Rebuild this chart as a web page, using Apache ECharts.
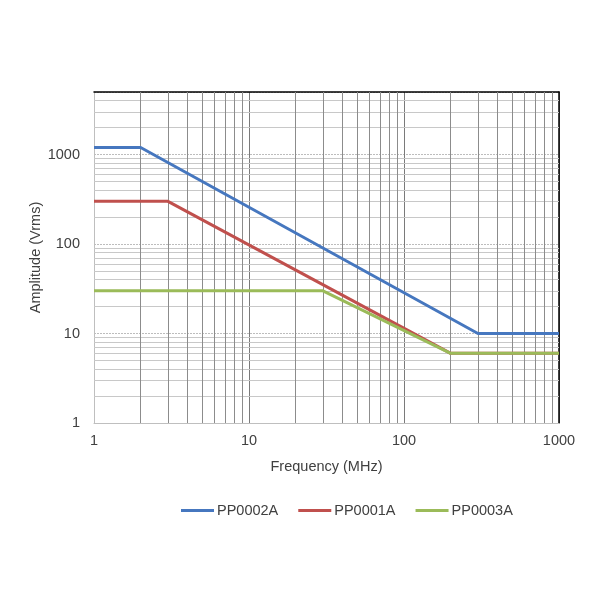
<!DOCTYPE html>
<html><head><meta charset="utf-8">
<script src="https://cdn.jsdelivr.net/npm/echarts@6/dist/echarts.min.js"></script>
<style>html,body{margin:0;padding:0;background:#fff}#c{width:600px;height:600px}</style>
</head><body><div id="c"></div>
<script>
// Data (frequency in MHz, amplitude in Vrms)
const seriesNames = ['PP0002A', 'PP0001A', 'PP0003A'];
const freqPP0002A = [1, 2, 300, 1000];
const ampPP0002A  = [1200, 1200, 10, 10];
const freqPP0001A = [1, 3, 200, 1000];
const ampPP0001A  = [300, 300, 6, 6];
const freqPP0003A = [1, 30, 200, 1000];
const ampPP0003A  = [30, 30, 6, 6];
const xTicks = [1, 10, 100, 1000];
const yTicks = [1, 10, 100, 1000];
const xMinorGrid = [2,3,4,5,6,7,8,9,20,30,40,50,60,70,80,90,200,300,400,500,600,700,800,900];
const yMinorGrid = [2,3,4,5,6,7,8,9,20,30,40,50,60,70,80,90,200,300,400,500,600,700,800,900,2000,3000,4000];

const colors = ['#4677BF', '#C0504D', '#9BBB59'];
const pair = (xs, ys) => xs.map((x, i) => [x, ys[i]]);
const font = 'Liberation Sans, Arial, sans-serif';
const fs = 14.5;

const lineSeries = (i, xs, ys, z) => ({
  name: seriesNames[i], type: 'line', data: pair(xs, ys), symbol: 'none',
  itemStyle: { color: colors[i] }, lineStyle: { width: 3, color: colors[i] }, z: z
});

const chart = echarts.init(document.getElementById('c'));
chart.setOption({
  animation: false,
  backgroundColor: '#fff',
  color: colors,
  grid: { left: 94, right: 41, top: 92, bottom: 177 },
  legend: {
    left: 176, top: 498,
    itemWidth: 33, itemHeight: 3, itemGap: 20,
    icon: 'rect',
    textStyle: { color: '#404040', fontSize: fs, fontFamily: font, padding: [0,0,0,-2] },
    data: seriesNames
  },
  xAxis: [{
    type: 'log', logBase: 10, min: 1, max: 1000,
    name: 'Frequency (MHz)', nameLocation: 'middle', nameGap: 36, nameMoveOverlap: false,
    nameTextStyle: { color: '#404040', fontSize: fs, fontFamily: font },
    axisLine: { show: true, lineStyle: { color: '#bfbfbf', width: 1 } },
    axisTick: { show: false },
    axisLabel: { color: '#404040', fontSize: fs, fontFamily: font, margin: 10,
      formatter: v => (xTicks.indexOf(Math.round(v)) >= 0 ? String(Math.round(v)) : '') },
    splitLine: { show: true, lineStyle: { color: '#7a7a7a', width: 1 } },
    minorSplitLine: { show: false }
  }, {
    type: 'log', logBase: 10, min: 1, max: 1000, position: 'top',
    axisLine: { show: true, lineStyle: { color: '#000', width: 1.5 } },
    axisTick: { show: false }, axisLabel: { show: false }, splitLine: { show: false }
  }],
  yAxis: [{
    type: 'log', logBase: 10, min: 1, max: 5000,
    name: 'Amplitude (Vrms)', nameLocation: 'middle', nameGap: 51, nameRotate: 90, nameMoveOverlap: false,
    nameTextStyle: { color: '#404040', fontSize: fs, fontFamily: font },
    axisLine: { show: true, lineStyle: { color: '#bfbfbf', width: 1 } },
    axisTick: { show: false },
    axisLabel: { color: '#404040', fontSize: fs, fontFamily: font, margin: 14, showMaxLabel: false,
      formatter: v => (yTicks.indexOf(Math.round(v)) >= 0 ? String(Math.round(v)) : '') },
    splitLine: { show: true, lineStyle: { color: '#bdbdbd', width: 1, type: [2, 1] } }
  }, {
    type: 'log', logBase: 10, min: 1, max: 5000, position: 'right',
    axisLine: { show: true, lineStyle: { color: '#000', width: 1.5 } },
    axisTick: { show: false }, axisLabel: { show: false }, splitLine: { show: false }
  }],
  series: [
    lineSeries(0, freqPP0002A, ampPP0002A, 5),
    lineSeries(1, freqPP0001A, ampPP0001A, 5),
    lineSeries(2, freqPP0003A, ampPP0003A, 6),
    {
      name: '_grid', type: 'line', data: [], silent: true, z: 1,
      itemStyle: { color: '#c8c8c8' },
      markLine: {
        silent: true, symbol: 'none', animation: false,
        label: { show: false },
        data: [
          ...yMinorGrid.map(v => ({ yAxis: v, lineStyle: { color: '#c8c8c8', width: 1, type: 'solid' } })),
          ...xMinorGrid.map(v => ({ xAxis: v, lineStyle: { color: '#8c8c8c', width: 1, type: 'solid' } }))
        ]
      }
    }
  ]
});
</script></body></html>
